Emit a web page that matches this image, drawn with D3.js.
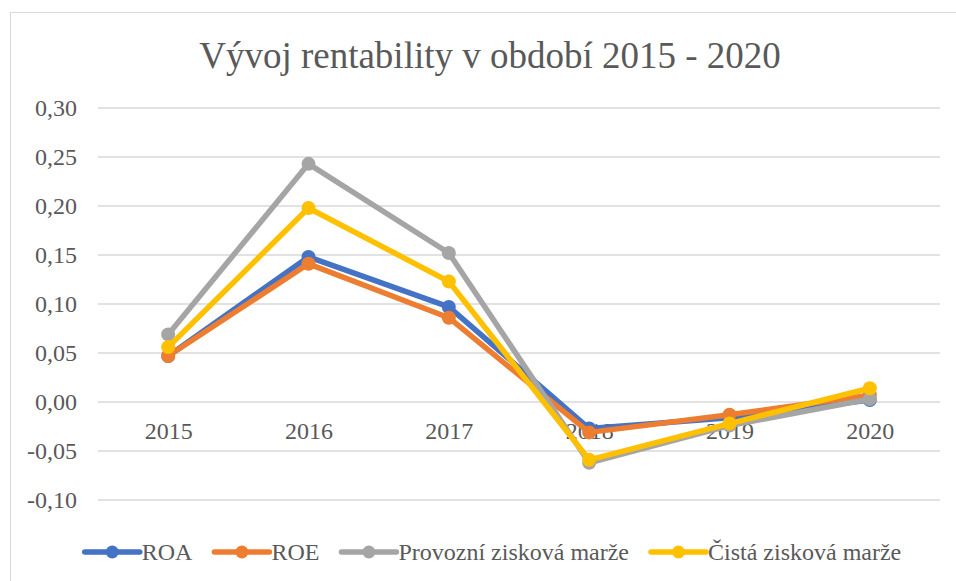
<!DOCTYPE html>
<html><head><meta charset="utf-8">
<script src="https://cdn.jsdelivr.net/npm/d3@7"></script>
<style>body{margin:0;background:#fff;} svg{display:block;}</style>
</head><body>
<script>
const years = ["2015","2016","2017","2018","2019","2020"];
const seriesNames = ["ROA","ROE","Provozní zisková marže","Čistá zisková marže"];
const roa = [0.047, 0.148, 0.097, -0.027, -0.016, 0.002];
const roe = [0.047, 0.141, 0.086, -0.031, -0.013, 0.007];
const provozni = [0.069, 0.243, 0.152, -0.062, -0.024, 0.003];
const cista = [0.056, 0.198, 0.123, -0.059, -0.022, 0.014];
const yTicks = [-0.10, -0.05, 0.00, 0.05, 0.10, 0.15, 0.20, 0.25, 0.30];
const colors = ["#4472C4","#ED7D31","#A5A5A5","#FFC000"];
const title = "Vývoj rentability v období 2015 - 2020";

const W = 956, H = 581;
const font = "'Liberation Serif','Times New Roman',serif";
const txt = "#595959";
const svg = d3.select("body").append("svg").attr("width", W).attr("height", H);

svg.append("rect").attr("x",10.5).attr("y",12.5).attr("width",980).attr("height",600)
  .attr("fill","#fff").attr("stroke","#d9d9d9").attr("stroke-width",1);

svg.append("text").attr("x",490).attr("y",68).attr("text-anchor","middle")
  .attr("font-family",font).attr("font-size",37).attr("fill",txt).text(title);

const x = d3.scalePoint().domain(years).range([98,940]).padding(0.5);
const y = d3.scaleLinear().domain([-0.10,0.30]).range([500,108]);

// gridlines
svg.append("g").selectAll("line").data(yTicks).join("line")
  .attr("x1",98).attr("x2",940).attr("y1",d=>y(d)).attr("y2",d=>y(d))
  .attr("stroke","#d9d9d9").attr("stroke-width",1.5);

// y axis labels
const fmt = d => d3.format(".2f")(d).replace(".",",").replace("−","-");
const yAxis = d3.axisLeft(y).tickValues(yTicks).tickFormat(fmt).tickSize(0).tickPadding(0);
const gy = svg.append("g").attr("transform","translate(77,0)").call(yAxis);
gy.select(".domain").remove();
gy.selectAll("text").attr("font-family",font).attr("font-size",24).attr("fill",txt).attr("dy","0.32em");

// x axis labels at zero line
const xAxis = d3.axisBottom(x).tickSize(0).tickPadding(0);
const gx = svg.append("g").attr("transform",`translate(0,${y(0)})`).call(xAxis);
gx.select(".domain").remove();
gx.selectAll("text").attr("font-family",font).attr("font-size",24).attr("fill",txt).attr("dy",null).attr("y",37);

const data = [roa, roe, provozni, cista];
const line = d3.line().x((d,i)=>x(years[i])).y(d=>y(d));
data.forEach((vals, k) => {
  const g = svg.append("g");
  g.append("path").datum(vals).attr("d",line).attr("fill","none")
    .attr("stroke",colors[k]).attr("stroke-width",5.5).attr("stroke-linejoin","round");
  g.selectAll("circle").data(vals).join("circle")
    .attr("cx",(d,i)=>x(years[i])).attr("cy",d=>y(d)).attr("r",7).attr("fill",colors[k]);
});

// legend
const lg = svg.append("g");
const ly = 552;
let cx = 0;
const items = [];
seriesNames.forEach((name,k) => {
  const it = lg.append("g").attr("transform",`translate(${cx},0)`);
  it.append("line").attr("x1",0).attr("x2",55).attr("y1",ly).attr("y2",ly)
    .attr("stroke",colors[k]).attr("stroke-width",5.5).attr("stroke-linecap","round");
  it.append("circle").attr("cx",27.5).attr("cy",ly).attr("r",6.5).attr("fill",colors[k]);
  const t = it.append("text").attr("x",57).attr("y",ly).attr("dy","0.34em")
    .attr("font-family",font).attr("font-size",24).attr("fill",txt).text(name);
  cx += 57 + t.node().getComputedTextLength() + 22;
});
const total = cx - 22;
lg.attr("transform",`translate(${493 - total/2},0)`);
</script>
</body></html>
